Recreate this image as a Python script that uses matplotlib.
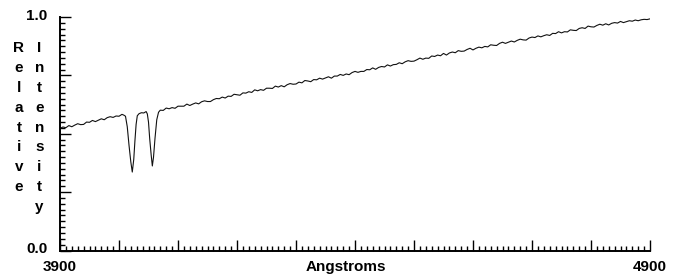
import numpy as np
import matplotlib
matplotlib.use("Agg")
import matplotlib.pyplot as plt
from matplotlib.ticker import MultipleLocator, FixedLocator
from matplotlib.transforms import ScaledTranslation

plt.rcParams['font.family'] = ['Liberation Sans', 'DejaVu Sans']
plt.rcParams['font.weight'] = 'bold'

# continuum blueward of the H & K lines (5 A steps)
wl_blue = np.arange(3900, 4006, 5)
int_blue = [0.523, 0.529, 0.526, 0.535, 0.530, 0.537, 0.543, 0.539, 0.540, 0.550,
            0.549, 0.557, 0.552, 0.558, 0.564, 0.560, 0.569, 0.573, 0.570, 0.576,
            0.575, 0.583]

# the two absorption lines
wl_hk = [4008, 4011, 4014, 4017, 4020, 4022.5, 4025, 4027, 4029, 4031, 4034, 4038,
         4042, 4046, 4048, 4050, 4052, 4054.5, 4056.5, 4058.5, 4061, 4064, 4067]
int_hk = [0.580, 0.575, 0.530, 0.450, 0.380, 0.336, 0.390, 0.470, 0.540, 0.577, 0.586, 0.590,
          0.589, 0.595, 0.585, 0.550, 0.480, 0.410, 0.362, 0.400, 0.480, 0.560, 0.592]

# continuum redward (5 A steps)
wl_red = np.arange(4070, 4901, 5)
int_red = [0.601, 0.600, 0.610, 0.607, 0.612, 0.609, 0.618, 0.618, 0.618, 0.627,
           0.621, 0.627, 0.632, 0.628, 0.637, 0.641, 0.638, 0.638, 0.646, 0.651,
           0.650, 0.657, 0.653, 0.661, 0.660, 0.669, 0.667, 0.665, 0.675, 0.674,
           0.680, 0.677, 0.688, 0.684, 0.689, 0.686, 0.695, 0.695, 0.694, 0.704,
           0.700, 0.706, 0.701, 0.710, 0.715, 0.712, 0.713, 0.721, 0.718, 0.728,
           0.726, 0.723, 0.732, 0.731, 0.738, 0.734, 0.739, 0.744, 0.738, 0.747,
           0.747, 0.754, 0.750, 0.756, 0.753, 0.762, 0.767, 0.763, 0.767, 0.767,
           0.775, 0.774, 0.782, 0.776, 0.784, 0.788, 0.786, 0.795, 0.790, 0.796,
           0.797, 0.804, 0.800, 0.808, 0.813, 0.810, 0.811, 0.817, 0.824, 0.819,
           0.824, 0.823, 0.833, 0.831, 0.837, 0.834, 0.844, 0.837, 0.846, 0.850,
           0.847, 0.856, 0.853, 0.854, 0.861, 0.866, 0.859, 0.866, 0.871, 0.868,
           0.874, 0.872, 0.881, 0.879, 0.878, 0.887, 0.892, 0.887, 0.892, 0.897,
           0.893, 0.900, 0.905, 0.902, 0.901, 0.910, 0.914, 0.912, 0.919, 0.915,
           0.920, 0.924, 0.921, 0.930, 0.929, 0.937, 0.932, 0.937, 0.936, 0.945,
           0.943, 0.942, 0.951, 0.954, 0.951, 0.961, 0.958, 0.957, 0.964, 0.969,
           0.965, 0.971, 0.966, 0.973, 0.976, 0.974, 0.981, 0.976, 0.980, 0.984,
           0.982, 0.987, 0.984, 0.988, 0.990, 0.989, 0.992]

x_major = list(range(3900, 4901, 100))
x_labels = ['3900'] + [''] * 9 + ['4900']
y_major = [0, 0.25, 0.5, 0.75, 1.0]
y_labels = ['0.0', '', '', '', '1.0']

wl = np.concatenate([wl_blue, wl_hk, wl_red])
flux = np.concatenate([int_blue, int_hk, int_red])

W, H = 673, 277
fig = plt.figure(figsize=(W / 100, H / 100), dpi=100)
ax = fig.add_axes([60 / W, 1 - 250.5 / H, 590 / W, 233.5 / H])

ax.plot(wl, flux, color='#111111', lw=0.8)

ax.set_xlim(3900, 4900)
ax.set_ylim(0, 1)
for s in ['top', 'right']:
    ax.spines[s].set_visible(False)
for s in ['left', 'bottom']:
    ax.spines[s].set_linewidth(1.4)

ax.xaxis.set_major_locator(FixedLocator(x_major))
ax.xaxis.set_minor_locator(MultipleLocator(10))
ax.yaxis.set_major_locator(FixedLocator(y_major))
ax.yaxis.set_minor_locator(MultipleLocator(0.025))
ax.set_xticklabels(x_labels)
ax.set_yticklabels(y_labels)

ax.tick_params(which='both', direction='in', color='black', width=1.0, labelsize=11)
ax.tick_params(which='major', length=8)
ax.tick_params(which='minor', length=3.6)
ax.tick_params(axis='x', pad=6.5)
ax.tick_params(axis='y', pad=9)

up = ScaledTranslation(0, 3 / 100, fig.dpi_scale_trans)
for lab in ax.get_yticklabels():
    lab.set_transform(lab.get_transform() + up)

ax.set_xlabel('Angstroms', fontsize=11, fontweight='bold', va='top')
ax.xaxis.set_label_coords((346 - 60) / 590, (250.5 - 260) / 233.5)

# stacked vertical axis title
for k, ch in enumerate('Relative'):
    fig.text(19 / W, 1 - (52.5 + 19.76 * k) / H, ch, ha='center', va='baseline',
             fontsize=11, fontweight='bold')
for k, ch in enumerate('Intensity'):
    fig.text(39.5 / W, 1 - (52.5 + 19.76 * k) / H, ch, ha='center', va='baseline',
             fontsize=11, fontweight='bold')

fig.savefig('out.png', dpi=100)
